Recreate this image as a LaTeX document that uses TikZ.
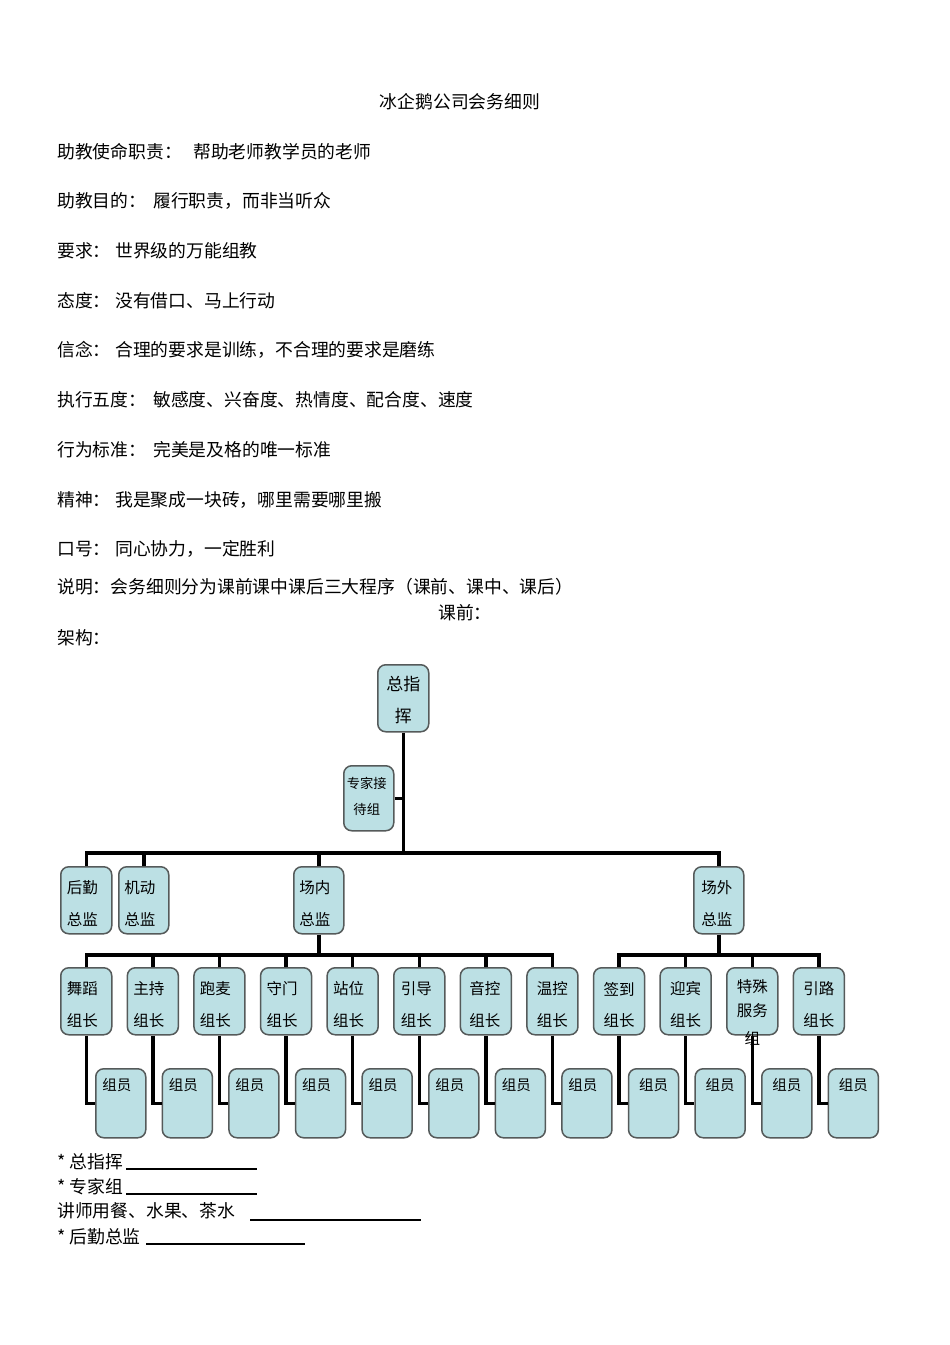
\documentclass[tikz,border=0pt]{standalone}
\usepackage{fontspec}
\setmainfont{Noto Sans CJK SC}
\definecolor{boxfill}{RGB}{188,224,228}
\definecolor{boxline}{RGB}{85,90,90}
\begin{document}
\begin{tikzpicture}[x=1pt,y=-1pt,
  txt/.style={anchor=west,inner sep=0pt,font=\fontsize{17.8}{20}\selectfont},
  cbox/.style={draw=boxline,fill=boxfill,line width=1.5pt,rounded corners=8pt,inner sep=0pt,anchor=north west},
  lbox/.style={cbox,minimum width=51pt,minimum height=67pt},
  mbox/.style={cbox,minimum width=50pt,minimum height=69pt},
  blbl/.style={inner sep=0pt,font=\fontsize{15.5}{18}\selectfont},
  mlbl/.style={inner sep=0pt,font=\fontsize{14.5}{17}\selectfont},
  conn/.style={line width=3.5pt,black},
  uline/.style={line width=1.1pt,black}]
\path[fill=white,use as bounding box] (0,0) rectangle (950,1345);

% ---------- header text ----------
\node[txt,anchor=center] (title) at (460,101.5) {冰企鹅公司会务细则};
\node[txt] (k1) at (57,151.5) {助教使命职责：};
\node[txt] (v1) at (193,151.5) {帮助老师教学员的老师};
\node[txt] (k2) at (57,201) {助教目的：};
\node[txt] (v2) at (153,201) {履行职责，而非当听众};
\node[txt] (k3) at (57,251) {要求：};
\node[txt] (v3) at (115,251) {世界级的万能组教};
\node[txt] (k4) at (57,300.5) {态度：};
\node[txt] (v4) at (115,300.5) {没有借口、马上行动};
\node[txt] (k5) at (57,350) {信念：};
\node[txt] (v5) at (115,350) {合理的要求是训练，不合理的要求是磨练};
\node[txt] (k6) at (57,400) {执行五度：};
\node[txt] (v6) at (153,400) {敏感度、兴奋度、热情度、配合度、速度};
\node[txt] (k7) at (57,450) {行为标准：};
\node[txt] (v7) at (153,450) {完美是及格的唯一标准};
\node[txt] (k8) at (57,500) {精神：};
\node[txt] (v8) at (115,500) {我是聚成一块砖，哪里需要哪里搬};
\node[txt] (k9) at (57,549) {口号：};
\node[txt] (v9) at (115,549) {同心协力，一定胜利};
\node[txt] (k10) at (57,587) {说明：会务细则分为课前课中课后三大程序（课前、课中、课后）};
\node[txt] (k11) at (438,613) {课前：};
\node[txt] (k12) at (57,637.5) {架构：};

% ---------- top boxes ----------
\node[cbox,minimum width=51pt,minimum height=67pt] (Z) at (377,664) {};
\node[blbl,font=\fontsize{17}{20}\selectfont] at ([shift={(0,20)}]Z.north) {总指};
\node[blbl,font=\fontsize{17}{20}\selectfont] at ([shift={(0,52)}]Z.north) {挥};
\node[cbox,minimum width=50pt,minimum height=65pt] (E) at (343,765) {};
\node[blbl,font=\fontsize{13.3}{16}\selectfont] at ([shift={(-2,18)}]E.north) {专家接};
\node[blbl,font=\fontsize{13.3}{16}\selectfont] at ([shift={(-2,44)}]E.north) {待组};

% ---------- directors ----------
\node[lbox] (H) at (60,866) {};
\node[lbox,minimum width=50pt] (J) at (118,866) {};
\node[lbox,minimum width=50pt] (N) at (293,866) {};
\node[lbox,minimum width=50pt] (W) at (693,866) {};
\foreach \n/\t/\dx in {H/后勤/-4,J/机动/-4,N/场内/-4,W/场外/-2}{
  \node[blbl] at ([shift={(\dx,22)}]\n.north) {\t};
  \node[blbl] at ([shift={(\dx,54)}]\n.north) {总监};
}

% ---------- leaders and members ----------
\foreach \i in {0,...,11}{
  \pgfmathsetmacro\mdx{\i<8 ? -4 : 0}
  \node[lbox] (L\i) at ({60+66.6*\i},967) {};
  \node[mbox] (M\i) at ({95+66.6*\i},1068) {};
  \node[mlbl] at ([shift={(\mdx,17)}]M\i.north) {组员};
  \draw[conn] (L\i.south) |- (M\i.west);
}
\foreach \i/\t/\dx in {0/舞蹈/-4,1/主持/-4,2/跑麦/-4,3/守门/-4,4/站位/-4,5/引导/-3,6/音控/-1,7/温控/0,8/签到/0,9/迎宾/0,11/引路/0}{
  \node[blbl] at ([shift={(\dx,22)}]L\i.north) {\t};
  \node[blbl] at ([shift={(\dx,54)}]L\i.north) {组长};
}
\node[blbl] at ([shift={(0,20)}]L10.north) {特殊};
\node[blbl] at ([shift={(0,44)}]L10.north) {服务};
\node[blbl] at ([shift={(0,71)}]L10.north) {组};

% ---------- connectors ----------
\coordinate (b1) at (0,853);
\coordinate (b2) at (0,955);
\draw[conn] (H.north) -- (H.north |- b1) -- (W.north |- b1) -- (W.north);
\draw[conn] (J.north) -- (J.north |- b1);
\draw[conn] (N.north) -- (N.north |- b1);
\draw[conn] (Z.south) -- (Z.south |- b1);
\draw[conn] (E.east) -- (E.east -| Z.south);
\draw[conn] (L0.north) -- (L0.north |- b2) -- (L7.north |- b2) -- (L7.north);
\foreach \i in {1,...,6} \draw[conn] (L\i.north) -- (L\i.north |- b2);
\draw[conn] (N.south) -- (N.south |- b2);
\draw[conn] (L8.north) -- (L8.north |- b2) -- (L11.north |- b2) -- (L11.north);
\foreach \i in {9,10} \draw[conn] (L\i.north) -- (L\i.north |- b2);
\draw[conn] (W.south) -- (W.south |- b2);

% ---------- footer ----------
\node[txt] (f1) at (57,1162) {* 总指挥};
\draw[uline] (126,1169) -- (257,1169);
\node[txt] (f2) at (57,1187) {* 专家组};
\draw[uline] (126,1194) -- (257,1194);
\node[txt] (f3) at (57,1211) {讲师用餐、水果、茶水};
\draw[uline] (250,1220) -- (421,1220);
\node[txt] (f4) at (57,1237) {* 后勤总监};
\draw[uline] (146,1244) -- (305,1244);
\end{tikzpicture}
\end{document}
